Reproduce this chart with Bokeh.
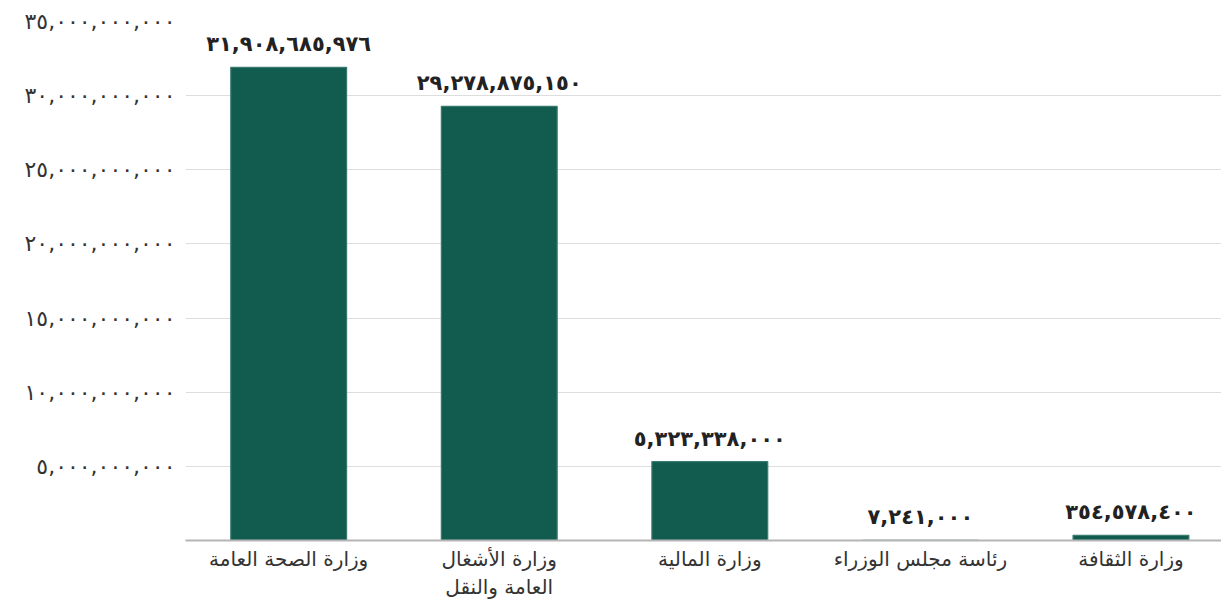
from bokeh.plotting import figure
from bokeh.models import Range1d, FixedTicker, ColumnDataSource
from bokeh.embed import file_html
from bokeh.resources import INLINE
from bokeh.core.properties import value

categories = ["وزارة الصحة العامة", "وزارة الأشغال\nالعامة والنقل", "وزارة المالية",
              "رئاسة مجلس الوزراء", "وزارة الثقافة"]
values = [31908685976, 29278875150, 5323338000, 7241000, 354578400]
y_ticks = [0, 5000000000, 10000000000, 15000000000, 20000000000,
           25000000000, 30000000000, 35000000000]

AR = str.maketrans("0123456789", "٠١٢٣٤٥٦٧٨٩")
def ar(n):
    return f"{n:,}".translate(AR)

FONT = "DejaVu Sans"
x = list(range(len(categories)))
src = ColumnDataSource(dict(x=x, top=values, label=[ar(v) for v in values]))

p = figure(frame_width=1036, frame_height=519, output_backend="svg", toolbar_location=None,
           x_range=Range1d(-0.49, 4.43), y_range=Range1d(0, 35000000000),
           min_border_left=185, min_border_right=0, min_border_top=21, min_border_bottom=62)
p.outline_line_color = None
p.background_fill_color = "white"
p.border_fill_color = "white"

p.vbar(x="x", top="top", width=0.55, source=src, fill_color="#125b4f",
       line_color="#3a7a6e", line_width=1.2)
p.text(x="x", y="top", text="label", source=src, text_align="center",
       text_baseline="alphabetic", y_offset=-23, text_font=value(FONT),
       text_font_style="bold", text_font_size="21px", text_color="#222222")

p.xgrid.grid_line_color = None
p.ygrid.grid_line_color = "#dddddd"
p.ygrid.ticker = FixedTicker(ticks=y_ticks)

p.yaxis.ticker = FixedTicker(ticks=y_ticks)
p.yaxis.major_label_overrides = {t: (ar(t) if t else "") for t in y_ticks}
p.yaxis.axis_line_color = None
p.yaxis.major_tick_line_color = None
p.yaxis.minor_tick_line_color = None
p.yaxis.major_tick_out = 0
p.yaxis.major_tick_in = 0
p.yaxis.major_label_standoff = 10
p.yaxis.major_label_text_font = FONT
p.yaxis.major_label_text_font_size = "22px"
p.yaxis.major_label_text_color = "#333333"

p.xaxis.ticker = FixedTicker(ticks=x)
p.xaxis.major_label_overrides = {i: c for i, c in zip(x, categories)}
p.xaxis.axis_line_color = "#b5b5b5"
p.xaxis.axis_line_width = 2
p.xaxis.major_tick_line_color = None
p.xaxis.minor_tick_line_color = None
p.xaxis.major_tick_out = 0
p.xaxis.major_tick_in = 0
p.xaxis.major_label_standoff = 6
p.xaxis.major_label_text_font = FONT
p.xaxis.major_label_text_font_size = "20px"
p.xaxis.major_label_text_color = "#333333"

open("out.html", "w").write(file_html(p, INLINE))
